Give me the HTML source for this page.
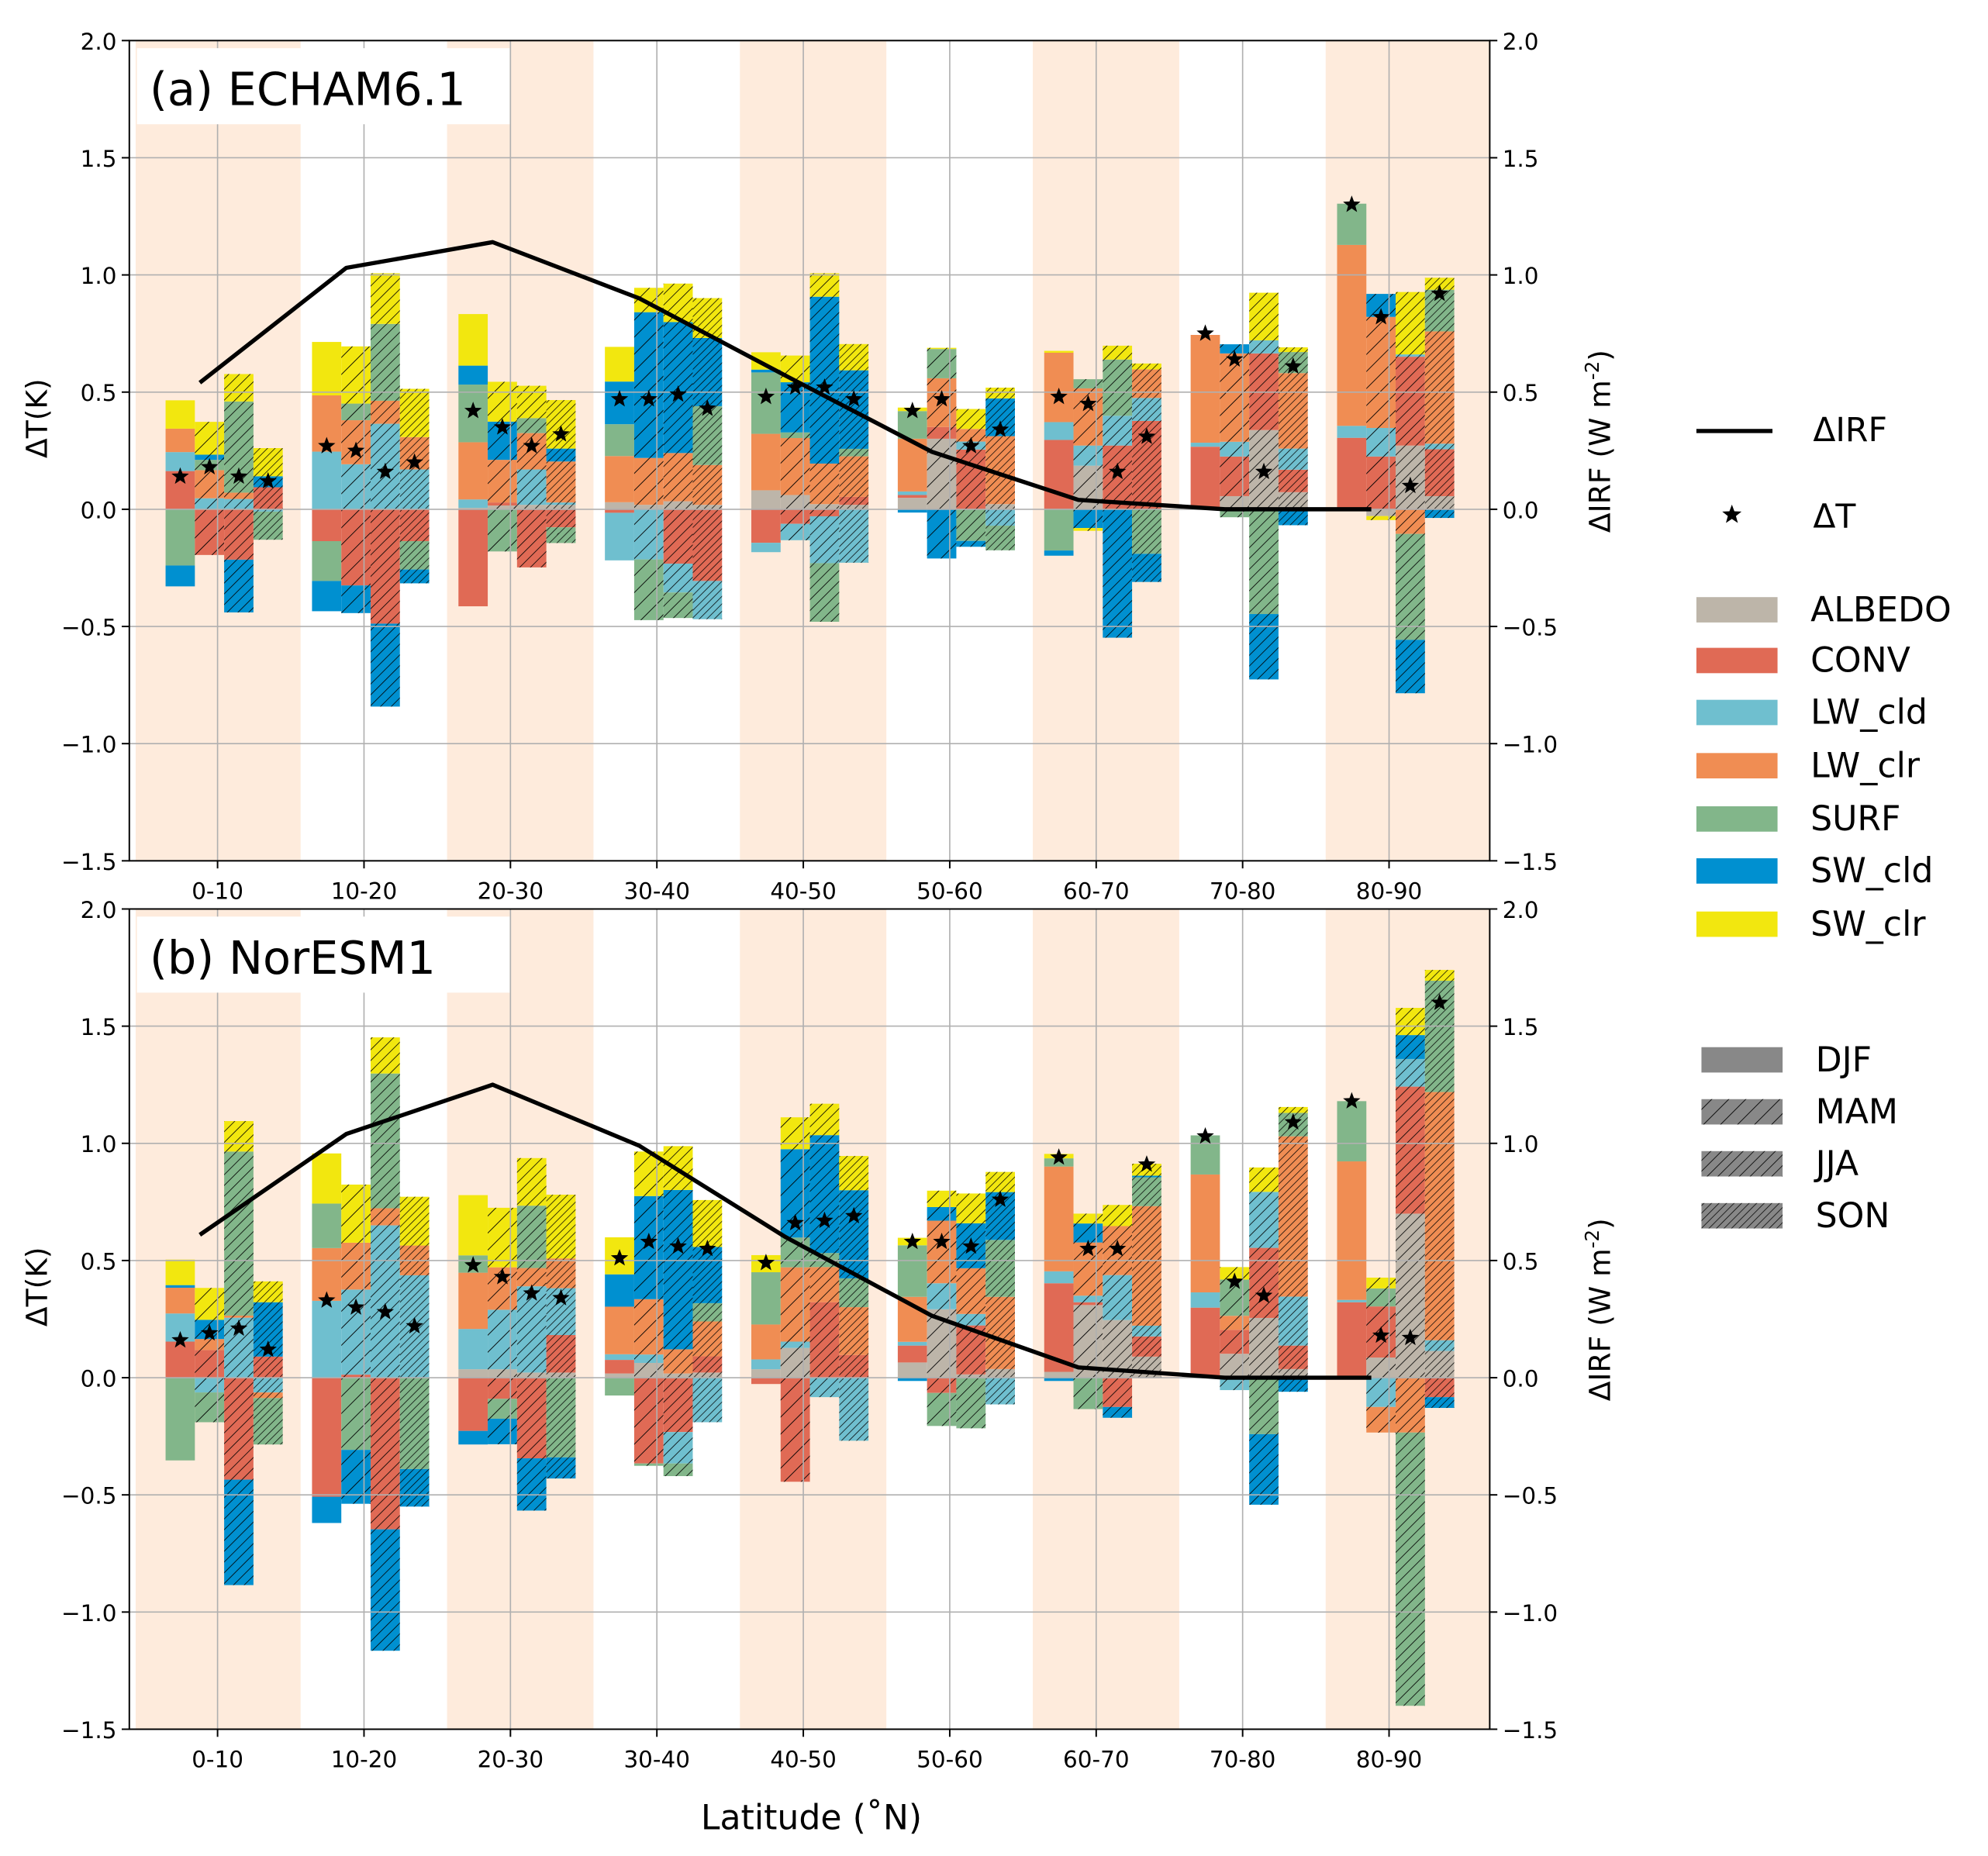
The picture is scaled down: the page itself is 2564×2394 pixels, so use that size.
<!DOCTYPE html>
<html><head><meta charset="utf-8"><style>
html,body{margin:0;padding:0;background:#fff;}
svg{display:block;font-family:"DejaVu Sans","Liberation Sans",sans-serif;}
</style></head><body>
<svg id="chart" width="2564" height="2394" viewBox="0 0 1568 1464" preserveAspectRatio="none" xmlns="http://www.w3.org/2000/svg">
<defs>
<pattern id="hMAM" patternUnits="userSpaceOnUse" width="9.5" height="9.5" patternTransform="rotate(45)"><line x1="0" y1="0" x2="0" y2="9.5" stroke="#000" stroke-width="1.1"/></pattern>
<pattern id="hJJA" patternUnits="userSpaceOnUse" width="6" height="6" patternTransform="rotate(45)"><line x1="0" y1="0" x2="0" y2="6" stroke="#000" stroke-width="1"/></pattern>
<pattern id="hSON" patternUnits="userSpaceOnUse" width="4.2" height="4.2" patternTransform="rotate(45)"><line x1="0" y1="0" x2="0" y2="4.2" stroke="#000" stroke-width="0.9"/></pattern>
</defs>
</svg>
<script>
// ---- data ----
const categories = ["0-10","10-20","20-30","30-40","40-50","50-60","60-70","70-80","80-90"];
const seasons = ["DJF","MAM","JJA","SON"];
const components = ["ALBEDO","CONV","LW_cld","LW_clr","SURF","SW_cld","SW_clr"];
const compColors = ["#bdb5a9","#e06a55","#6fbfcf","#f08d53","#82b68a","#0090d0","#f2e70f"];
const yTicks = [-1.5,-1.0,-0.5,0.0,0.5,1.0,1.5,2.0];

// panel (a) ECHAM6.1 : per latitude band, values [ALBEDO,CONV,LW_cld,LW_clr,SURF,SW_cld,SW_clr]
const echamDJF = [[0,.163,.081,.10,-.24,-.089,.121],[0,-.136,.246,.24,-.17,-.129,.228],[.006,-.414,.036,.244,.246,.081,.22],[.03,-.015,-.203,.197,.136,.182,.148],[.081,-.143,-.04,.241,.262,.012,.074],[.049,.012,.015,.225,.118,-.014,.015],[0,.296,.076,.296,-.176,-.022,.008],[0,.267,.017,.46,0,0,0],[0,.305,.051,.772,.176,0,0]];
const echamMAM = [[0,-.195,.047,.12,.044,.022,.14],[0,-.325,.192,.188,.071,-.118,.244],[.016,.013,0,.182,-.18,.163,.17],[.019,0,-.214,.2,-.259,.622,.104],[.061,-.062,-.07,.243,.024,.214,.114],[.301,.05,0,.208,.125,-.21,.005],[.186,0,.086,.244,.039,-.08,-.012],[.056,.169,.063,.377,-.034,.039,0],[-.029,.225,.122,.474,0,.098,-.017]];
const echamJJA = [[0,-.215,.044,.027,.389,-.225,.117],[0,-.488,.365,.098,.328,-.354,.216],[.019,-.248,.151,.155,.064,0,.138],[.034,-.232,-.123,.206,-.109,.559,.164],[.022,-.03,-.2,.173,-.25,.712,.1],[0,.255,.034,.054,-.135,-.025,.085],[0,.272,.127,0,.24,-.548,.059],[.338,.327,.056,0,-.447,-.279,.203],[.272,.379,.01,-.105,-.452,-.228,.266]];
const echamSON = [[0,.094,-.01,0,-.12,.047,.12],[0,-.136,.17,.138,-.121,-.059,.206],[.019,-.077,.01,.175,-.067,.055,.207],[.019,-.306,-.163,.17,.251,.291,.17],[.019,.034,-.228,.173,.032,.335,.112],[.022,0,-.07,.29,-.105,.161,.046],[0,.377,.098,.122,-.19,-.12,.025],[.073,.096,.09,.322,.09,-.068,.02],[.056,.2,.024,.479,.178,-.037,.051]];
const echamDT = [[.14,.18,.14,.12],[.27,.25,.16,.20],[.42,.35,.27,.32],[.47,.47,.49,.43],[.48,.52,.52,.47],[.42,.47,.27,.34],[.48,.45,.16,.31],[.75,.64,.16,.61],[1.30,.82,.10,.92]];
const echamIRF = [.54,1.03,1.14,.90,.57,.245,.04,0,0];

// panel (b) NorESM1
const noresmDJF = [[0,.154,.12,.11,-.353,.011,.109],[0,-.508,.328,.225,.19,-.112,.214],[.036,-.227,.172,.24,.074,-.058,.257],[.018,.058,.024,.203,-.076,.138,.158],[.036,-.027,.042,.149,.223,0,.073],[.065,.072,.016,.192,.22,-.014,.032],[.025,.378,.051,.447,.035,-.014,.019],[0,.299,.065,.503,.167,0,0],[0,.322,.01,.591,.257,0,0]];
const noresmMAM = [[0,.118,-.063,.047,-.127,.082,.136],[0,.013,.363,.2,-.308,-.23,.248],[.036,-.09,.254,.181,-.085,-.109,.254],[.063,-.366,.036,.236,-.01,.44,.19],[.127,-.444,.027,.317,.127,.377,.136],[.292,-.065,.111,.267,-.141,.058,.07],[.31,.012,.028,.227,-.134,.081,.042],[.102,.102,-.053,.06,.155,0,.053],[.086,.218,-.125,-.109,.077,0,.046]];
const noresmJJA = [[0,-.435,.256,.009,.7,-.45,.13],[0,-.647,.65,.073,.575,-.518,.154],[.022,-.344,.368,.078,.266,-.223,.203],[.018,-.232,-.134,.103,-.054,.68,.187],[0,.322,-.083,.15,.06,.503,.134],[.014,.209,.049,.195,-.216,.192,.127],[.246,-.125,.192,.209,0,-.046,.09],[.255,.299,.239,0,-.241,-.301,.104],[.7,.542,.118,-.234,-1.166,.102,.116]];
const noresmSON = [[0,.09,-.063,-.024,-.198,.232,.089],[0,0,.437,.127,-.39,-.16,.208],[.022,.16,.2,.127,-.34,-.09,.272],[.022,.069,-.19,.149,.078,.24,.2],[0,.097,-.269,.204,.123,.376,.146],[.037,0,-.114,.308,.243,.204,.086],[.09,.086,.046,.51,.123,.007,.051],[.037,.1,.209,.684,.1,-.06,.025],[.114,-.083,.046,1.059,.475,-.046,.046]];
const noresmDT = [[.16,.19,.21,.12],[.33,.30,.28,.22],[.48,.43,.36,.34],[.51,.58,.56,.55],[.49,.66,.67,.69],[.58,.58,.56,.76],[.94,.55,.55,.91],[1.03,.41,.35,1.09],[1.18,.18,.17,1.60]];
const noresmIRF = [.61,1.04,1.25,.99,.60,.264,.044,0,0];

// ---- drawing ----
const svg = document.getElementById('chart');
const NS = "http://www.w3.org/2000/svg";
function mk(tag, attrs, parent){
  const e = document.createElementNS(NS, tag);
  for (const k in attrs) e.setAttribute(k, attrs[k]);
  (parent||svg).appendChild(e);
  return e;
}
const X0 = 102, X1 = 1175;
const tick0 = 171.6, tickStep = 115.5, barW = 23.1;
function xTick(g){ return tick0 + tickStep*g; }
function xBar(g,i){ return xTick(g) - 41 + barW*i; }

function starPath(cx, cy, r){
  let d = "";
  for (let k=0;k<10;k++){
    const rr = k%2===0 ? r : r*0.42;
    const a = -Math.PI/2 + k*Math.PI/5;
    d += (k===0?"M":"L") + (cx+rr*Math.cos(a)).toFixed(2) + "," + (cy+rr*Math.sin(a)).toFixed(2);
  }
  return d + "Z";
}

function drawPanel(top, title, seasonData, dtData, irfData, pname){
  const bottom = top + 647;
  const unit = 647/3.5;
  const y = v => top + (2 - v)*unit;
  const g = mk('g', {});
  
  
  const bandStarts = [0,2,4,6,8];
  bandStarts.forEach(b => {
    let bx = xTick(b) - 50, bw = 115.5;
    if (b === 0){ bx = 107; bw = xTick(0) + 65.5 - 107; }
    if (b === 8){ bw = X1 - bx; }
    const r = mk('rect', {x:bx, y:top, width:bw, height:647, fill:'#feebdc'}, g);
    
    
  });
  seasonData.forEach((arr, si) => {
    arr.forEach((vals, gi) => {
      let pos = 0, neg = 0;
      const bx = xBar(gi, si);
      vals.forEach((v, ci) => {
        if (v === 0) return;
        let y0, y1;
        if (v > 0){ y0 = y(pos + v); y1 = y(pos); pos += v; }
        else { y0 = y(neg); y1 = y(neg + v); neg += v; }
        const r = mk('rect', {x:bx.toFixed(2), y:y0.toFixed(2), width:barW, height:(y1-y0).toFixed(2), fill:compColors[ci]}, g);
        
        
        if (si > 0){
          const h = mk('rect', {x:bx.toFixed(2), y:y0.toFixed(2), width:barW, height:(y1-y0).toFixed(2), fill:'url(#h'+seasons[si]+')'}, g);
          
          
        }
      });
    });
  });
  yTicks.forEach(t => {
    const l = mk('line', {x1:X0, x2:X1, y1:y(t), y2:y(t), stroke:'#b0b0b0', 'stroke-width':1}, g);
    
    
  });
  categories.forEach((c, gi) => {
    const l = mk('line', {x1:xTick(gi), x2:xTick(gi), y1:top, y2:bottom, stroke:'#b0b0b0', 'stroke-width':1}, g);
    
    
  });
  const pts = irfData.map((v, gi) => (xTick(gi) - 14).toFixed(1) + ',' + y(v).toFixed(1)).join(' ');
  const pl = mk('polyline', {points:pts, fill:'none', stroke:'#000', 'stroke-width':3.3, 'stroke-linejoin':'round'}, g);
  
  
  dtData.forEach((vals, gi) => {
    vals.forEach((v, si) => {
      const s = mk('path', {d:starPath(xBar(gi, si) + barW/2, y(v), 7.2), fill:'#000'}, g);
      
      
    });
  });
  const fr = mk('rect', {x:X0, y:top, width:X1-X0, height:647, fill:'none', stroke:'#000', 'stroke-width':1.2}, g);
  
  
  yTicks.forEach(t => {
    const yy = y(t);
    mk('line', {x1:X0-6, x2:X0, y1:yy, y2:yy, stroke:'#000', 'stroke-width':1.2}, g);
    mk('line', {x1:X1, x2:X1+6, y1:yy, y2:yy, stroke:'#000', 'stroke-width':1.2}, g);
    const lab = t.toFixed(1).replace('-', '\u2212');
    const tl = mk('text', {x:X0-10, y:yy+7, 'font-size':18, 'text-anchor':'end', fill:'#000'}, g);
    tl.textContent = lab;
    
    
    const tr = mk('text', {x:X1+10, y:yy+7, 'font-size':18, 'text-anchor':'start', fill:'#000'}, g);
    tr.textContent = lab;
    
    
  });
  categories.forEach((c, gi) => {
    mk('line', {x1:xTick(gi), x2:xTick(gi), y1:bottom, y2:bottom+6, stroke:'#000', 'stroke-width':1.2}, g);
    const t = mk('text', {x:xTick(gi), y:bottom+30, 'font-size':18, 'text-anchor':'middle'}, g);
    t.textContent = c;
    
    
  });
  const tb = mk('rect', {x:108, y:top+6, width:294, height:60, fill:'#fff'}, g);
  
  
  const tt = mk('text', {x:118, y:top+51, 'font-size':36}, g);
  tt.textContent = title;
  
  
  const yl = mk('text', {x:0, y:0, 'font-size':23, 'text-anchor':'middle', transform:'translate(37,'+(top+298)+') rotate(-90)'}, g);
  yl.textContent = '\u0394T(K)';
  
  
  const yr = mk('text', {x:0, y:0, 'font-size':23, 'text-anchor':'middle', transform:'translate(1270,'+(top+316)+') rotate(-90)'}, g);
  yr.innerHTML = '\u0394IRF (W m<tspan dy="-9" font-size="15">-2</tspan><tspan dy="9">)</tspan>';
  
  
}

drawPanel(32, '(a) ECHAM6.1', [echamDJF, echamMAM, echamJJA, echamSON], echamDT, echamIRF, 'echam');
drawPanel(717, '(b) NorESM1', [noresmDJF, noresmMAM, noresmJJA, noresmSON], noresmDT, noresmIRF, 'noresm');

const xl = mk('text', {x:640, y:1443, 'font-size':27, 'text-anchor':'middle'});
xl.textContent = 'Latitude (\u02daN)';



const lg = mk('g', {});


mk('line', {x1:1338, x2:1398, y1:340, y2:340, stroke:'#000', 'stroke-width':3.3}, lg);
const li = mk('text', {x:1430, y:348, 'font-size':26}, lg);
li.textContent = '\u0394IRF';


mk('path', {d:starPath(1366, 406, 8), fill:'#000'}, lg);
const ld = mk('text', {x:1430, y:416, 'font-size':26}, lg);
ld.textContent = '\u0394T';


const compY = [481, 521, 562, 604, 646, 687, 729];
components.forEach((c, ci) => {
  const r = mk('rect', {x:1338, y:compY[ci]-10, width:64, height:20, fill:compColors[ci]}, lg);
  
  
  const t = mk('text', {x:1428, y:compY[ci]+9, 'font-size':27}, lg);
  t.textContent = c;
  
  
});
const seaY = [836, 877, 918, 959];
seasons.forEach((s, si) => {
  const r = mk('rect', {x:1342, y:seaY[si]-10, width:64, height:20, fill:'#888'}, lg);
  
  
  if (si > 0) mk('rect', {x:1342, y:seaY[si]-10, width:64, height:20, fill:'url(#h'+s+')'}, lg);
  const t = mk('text', {x:1432, y:seaY[si]+9, 'font-size':27}, lg);
  t.textContent = s;
  
  
});
</script>
</body></html>
